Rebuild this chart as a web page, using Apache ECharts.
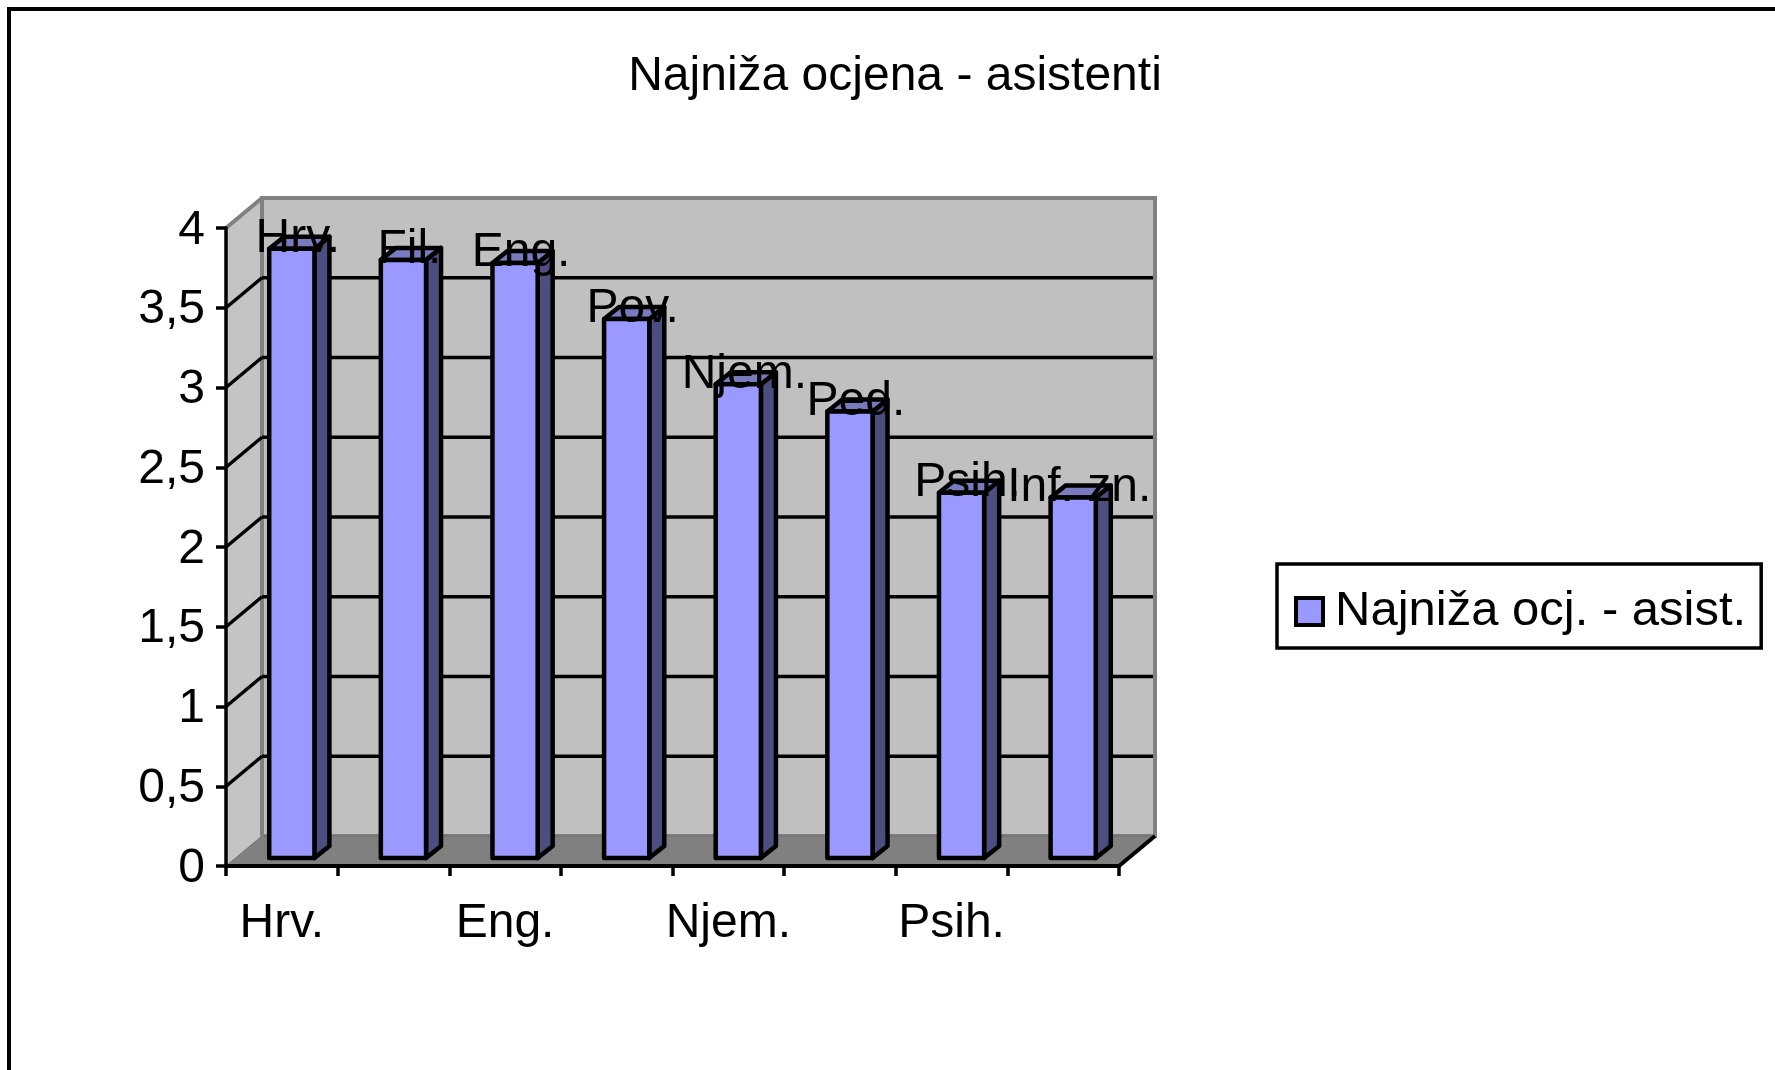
<!DOCTYPE html>
<html>
<head>
<meta charset="utf-8">
<script src="https://cdn.jsdelivr.net/npm/echarts@6/dist/echarts.min.js"></script>
<style>html,body{margin:0;padding:0;background:#fff}#c{width:1775px;height:1070px}</style>
</head>
<body>
<div id="c"></div>
<script>
var titleText = 'Najniža ocjena - asistenti';
var seriesName = 'Najniža ocj. - asist.';
var categories = ['Hrv.', 'Fil.', 'Eng.', 'Pov.', 'Njem.', 'Ped.', 'Psih.', 'Inf. zn.'];
var values = [3.82, 3.75, 3.73, 3.38, 2.97, 2.8, 2.29, 2.26];
var yTicks = [0, 0.5, 1, 1.5, 2, 2.5, 3, 3.5, 4];
var yTickLabels = ['0', '0,5', '1', '1,5', '2', '2,5', '3', '3,5', '4'];

var FONT = '"Liberation Sans", Arial, sans-serif';
var DX = 36, DY = -30;        // depth of the chart box
var BDX = 15, BDY = -12;      // depth of a bar
var OX = 10, OY = -8;         // bar offset into the box
var GAP = 0.405;              // bar width as share of band

function renderWalls(params, api) {
  var t = api.value(0);
  var p = api.coord([0, t]);
  var cs = params.coordSys;
  var x0 = cs.x, x1 = cs.x + cs.width, yT = cs.y, yB = cs.y + cs.height;
  var children = [];
  if (t === yTicks[0]) {
    children.push(
      { type: 'polygon', shape: { points: [[x0 + DX, yT + DY], [x1 + DX, yT + DY], [x1 + DX, yB + DY], [x0 + DX, yB + DY]] },
        style: { fill: '#c0c0c0', stroke: '#808080', lineWidth: 4 } },
      { type: 'polygon', shape: { points: [[x0, yT], [x0 + DX, yT + DY], [x0 + DX, yB + DY], [x0, yB]] },
        style: { fill: '#c4c4c4', stroke: null } },
      { type: 'polygon', shape: { points: [[x0, yB], [x1, yB], [x1 + DX, yB + DY], [x0 + DX, yB + DY]] },
        style: { fill: '#808080', stroke: null } },
      { type: 'line', shape: { x1: x0 + DX, y1: yB + DY, x2: x1 + DX, y2: yB + DY }, style: { stroke: '#6c6c6c', lineWidth: 1 } },
      { type: 'line', shape: { x1: x0 + DX, y1: yT + DY, x2: x0 + DX, y2: yB + DY }, style: { stroke: '#808080', lineWidth: 4 } },
      { type: 'line', shape: { x1: x0, y1: yB, x2: x0 + DX, y2: yB + DY }, style: { stroke: '#6c6c6c', lineWidth: 1 } },
      { type: 'line', shape: { x1: x0, y1: yT, x2: x0 + DX, y2: yT + DY }, style: { stroke: '#808080', lineWidth: 4 } },
      { type: 'line', shape: { x1: x1, y1: yB, x2: x1 + DX, y2: yB + DY }, style: { stroke: '#000', lineWidth: 4 } }
    );
  }
  if (t !== yTicks[0] && t !== yTicks[yTicks.length - 1]) {
    children.push(
      { type: 'line', shape: { x1: x0 + DX, y1: p[1] + DY, x2: x1 + DX - 2, y2: p[1] + DY }, style: { stroke: '#000', lineWidth: 3.5 } },
      { type: 'line', shape: { x1: x0, y1: p[1], x2: x0 + DX, y2: p[1] + DY }, style: { stroke: '#000', lineWidth: 3.5 } }
    );
  }
  return { type: 'group', children: children };
}

function renderBars(params, api) {
  var i = api.value(0), v = api.value(1);
  var top = api.coord([i, v]);
  var base = api.coord([i, 0]);
  var w = api.size([1, 0])[0] * GAP;
  var l = top[0] + OX - w / 2, r = l + w;
  var t = top[1] + OY, b = base[1] + OY;
  var stroke = { stroke: '#000', lineWidth: 4.5, lineJoin: 'round' };
  return {
    type: 'group',
    children: [
      { type: 'polygon', shape: { points: [[r, t], [r + BDX, t + BDY], [r + BDX, b + BDY], [r, b]] },
        style: Object.assign({ fill: '#4d4d80' }, stroke) },
      { type: 'polygon', shape: { points: [[l, t], [l + BDX, t + BDY], [r + BDX, t + BDY], [r, t]] },
        style: Object.assign({ fill: '#7a7abf' }, stroke) },
      { type: 'polygon', shape: { points: [[l, t], [r, t], [r, b], [l, b]] },
        style: Object.assign({ fill: '#9999ff' }, stroke) },
      { type: 'text', style: { text: categories[i], x: (l + r) / 2 + 6, y: t - 10, fill: '#000',
          fontSize: 48, fontFamily: FONT, align: 'center', verticalAlign: 'middle' } }
    ]
  };
}

var chart = echarts.init(document.getElementById('c'));
chart.setOption({
  animation: false,
  backgroundColor: '#fff',
  title: {
    text: titleText, left: 895, top: 53, textAlign: 'center', padding: 0,
    textStyle: { fontFamily: FONT, fontSize: 48, fontWeight: 'normal', color: '#000' }
  },
  legend: {
    left: 1277, top: 564, orient: 'horizontal', selectedMode: false,
    padding: [23, 15, 12, 17], borderColor: '#000', borderWidth: 3.5,
    itemWidth: 27, itemHeight: 27, itemGap: 0,
    textStyle: { fontFamily: FONT, fontSize: 49, color: '#000', padding: [0, 0, 0, 7] },
    data: [{ name: seriesName, icon: 'rect', itemStyle: { color: '#9999ff', borderColor: '#000', borderWidth: 4 } }]
  },
  grid: { left: 226, top: 228, width: 893, height: 638, containLabel: false },
  xAxis: {
    type: 'category', data: categories, z: 3,
    axisLine: { show: true, lineStyle: { color: '#000', width: 4 } },
    axisTick: { show: true, length: 10, interval: 0, alignWithLabel: false, lineStyle: { color: '#000', width: 3.5 } },
    axisLabel: { interval: 1, margin: 34, color: '#000', fontFamily: FONT, fontSize: 48 }
  },
  yAxis: {
    type: 'value', min: 0, max: 4, interval: 0.5, z: 3,
    axisLine: { show: true, lineStyle: { color: '#000', width: 3.5 } },
    axisTick: { show: true, length: 10, lineStyle: { color: '#000', width: 3.5 } },
    splitLine: { show: false },
    axisLabel: {
      margin: 21, color: '#000', fontFamily: FONT, fontSize: 48,
      rich: { t: { fontFamily: FONT, fontSize: 48, color: '#000', padding: [5, 0, 0, 0] } },
      formatter: function (val) { return '{t|' + yTickLabels[yTicks.indexOf(val)] + '}'; }
    }
  },
  series: [
    { type: 'custom', name: 'walls', z: 1, silent: true, coordinateSystem: 'cartesian2d',
      renderItem: renderWalls, encode: { y: 0 }, data: yTicks.map(function (t) { return [t]; }), clip: false },
    { type: 'custom', name: seriesName, z: 4, coordinateSystem: 'cartesian2d',
      itemStyle: { color: '#9999ff' }, renderItem: renderBars, encode: { x: 0, y: 1 },
      data: values.map(function (v, i) { return [i, v]; }), clip: false }
  ],
  graphic: [{
    type: 'rect', silent: true, z: 0,
    shape: { x: 9, y: 9, width: 1800, height: 1100 },
    style: { fill: 'none', stroke: '#000', lineWidth: 4 }
  }]
});
</script>
</body>
</html>
